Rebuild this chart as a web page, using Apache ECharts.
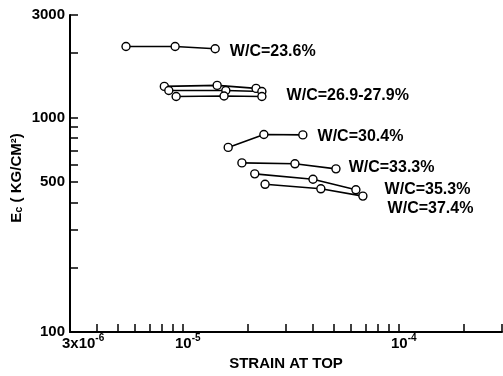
<!DOCTYPE html>
<html>
<head>
<meta charset="utf-8">
<style>
  html, body { margin: 0; padding: 0; background: #fff; }
  #chart { width: 503px; height: 376px; }
</style>
<script src="https://cdn.jsdelivr.net/npm/echarts@6/dist/echarts.min.js"></script>
</head>
<body>
<div id="chart"></div>
<script>
// Modulus of elasticity Ec (kg/cm^2) against strain at top, per water/cement ratio
const seriesNames = ['W/C=23.6%', 'W/C=26.9-27.9%', 'W/C=26.9-27.9% b', 'W/C=26.9-27.9% c',
                     'W/C=30.4%', 'W/C=33.3%', 'W/C=35.3%', 'W/C=37.4%'];

const wc236 = [[5.45e-6, 2140], [9.2e-6, 2140], [1.41e-5, 2090]];
const wc269a = [[8.2e-6, 1395], [1.44e-5, 1410], [2.18e-5, 1365]];
const wc269b = [[8.6e-6, 1335], [1.58e-5, 1335], [2.32e-5, 1320]];
const wc269c = [[9.3e-6, 1252], [1.55e-5, 1258], [2.32e-5, 1252]];
const wc304 = [[1.62e-5, 725], [2.37e-5, 833], [3.59e-5, 829]];
const wc333 = [[1.875e-5, 614], [3.3e-5, 608], [5.11e-5, 576]];
const wc353 = [[2.15e-5, 546], [4.0e-5, 515], [6.32e-5, 460]];
const wc374 = [[2.4e-5, 488], [4.35e-5, 465], [6.81e-5, 430]];

const seriesData = [wc236, wc269a, wc269b, wc269c, wc304, wc333, wc353, wc374];

// Text written next to the last point of a curve (null: no text)
const endTexts = ['W/C=23.6%', null, 'W/C=26.9-27.9%', null, 'W/C=30.4%', 'W/C=33.3%', 'W/C=35.3%', 'W/C=37.4%'];
const endOffsets = [[10, 3], null, [20, 4], null, [10, 2], [8, -1], [24, 0], [20, 12]];

// Axis ticks and labels
const xTickValues = [4e-6, 5e-6, 6e-6, 7e-6, 8e-6, 9e-6, 1e-5, 2e-5, 3e-5, 4e-5, 5e-5, 6e-5, 7e-5, 8e-5, 9e-5, 1e-4, 2e-4, 3e-4];
const xLabelValues = [3e-6, 1e-5, 1e-4];
const xLabelBase = ['3x10', '10', '10'];
const xLabelExp = ['-6', '-5', '-4'];
const yTickValues = [200, 300, 400, 500, 600, 700, 800, 900, 1000, 2000, 3000];
const yLabelValues = [100, 500, 1000, 3000];

const FONT = 'Liberation Sans';
const chart = echarts.init(document.getElementById('chart'), null, { renderer: 'canvas' });

const series = seriesData.map((pts, i) => ({
  name: seriesNames[i],
  type: 'line',
  data: pts.map((p, j) => {
    if (j === pts.length - 1 && endTexts[i]) {
      return {
        value: p,
        label: {
          show: true, position: 'right', distance: 0,
          offset: endOffsets[i],
          formatter: endTexts[i],
          color: '#000', fontFamily: FONT, fontSize: 16, fontWeight: 'bold'
        }
      };
    }
    return p;
  }),
  symbol: 'circle',
  symbolSize: 8,
  showAllSymbol: true,
  lineStyle: { color: '#000', width: 1.6 },
  itemStyle: { color: '#fff', borderColor: '#000', borderWidth: 1.4 },
  emphasis: { disabled: true },
  animation: false,
  z: 3
}));

// Pick the label entry closest (in log space) to a tick value
function xLabelIndex(v) {
  let best = -1, bestD = 0.05;
  xLabelValues.forEach((lv, k) => {
    const d = Math.abs(Math.log10(v) - Math.log10(lv));
    if (d < bestD) { bestD = d; best = k; }
  });
  return best;
}

chart.setOption({
  animation: false,
  backgroundColor: '#fff',
  grid: { left: 70, right: 1, top: 15, bottom: 43, containLabel: false },
  xAxis: {
    type: 'log', logBase: 10, min: 3e-6, max: 3e-4,
    name: 'STRAIN AT TOP', nameLocation: 'middle', nameGap: 23,
    nameTextStyle: { color: '#000', fontFamily: FONT, fontSize: 15, fontWeight: 'bold' },
    axisLine: { lineStyle: { color: '#000', width: 2 } },
    axisTick: { show: true, inside: true, length: 8, customValues: xTickValues, lineStyle: { color: '#000', width: 1.5 } },
    axisLabel: {
      customValues: xLabelValues, margin: 1, align: 'left', padding: [0, 0, 0, -8],
      showMinLabel: true, showMaxLabel: true,
      formatter: v => {
        const k = xLabelIndex(v);
        return k < 0 ? '' : '{b|' + xLabelBase[k] + '}{s|' + xLabelExp[k] + '}';
      },
      rich: {
        b: { fontFamily: FONT, fontSize: 15, fontWeight: 'bold', color: '#000', lineHeight: 18, verticalAlign: 'bottom' },
        s: { fontFamily: FONT, fontSize: 10, fontWeight: 'bold', color: '#000', lineHeight: 10, verticalAlign: 'top' }
      }
    },
    splitLine: { show: false }
  },
  yAxis: {
    type: 'log', logBase: 10, min: 100, max: 3000,
    axisLine: { lineStyle: { color: '#000', width: 2 } },
    axisTick: { show: true, inside: true, length: 8, customValues: yTickValues, lineStyle: { color: '#000', width: 1.5 } },
    axisLabel: {
      customValues: yLabelValues, margin: 5, color: '#000', fontFamily: FONT, fontSize: 15, fontWeight: 'bold',
      showMinLabel: true, showMaxLabel: true,
      formatter: v => String(Math.round(v))
    },
    splitLine: { show: false }
  },
  graphic: [{
    type: 'text',
    x: 16, y: 178,
    rotation: Math.PI / 2,
    style: {
      text: '{e|E}{c|c}{t| ( KG/CM²)}',
      align: 'center', verticalAlign: 'middle',
      rich: {
        e: { fontFamily: FONT, fontSize: 15, fontWeight: 'bold', color: '#000', lineHeight: 16, verticalAlign: 'bottom' },
        c: { fontFamily: FONT, fontSize: 11, fontWeight: 'bold', color: '#000', lineHeight: 16, verticalAlign: 'bottom' },
        t: { fontFamily: FONT, fontSize: 15, fontWeight: 'bold', color: '#000', lineHeight: 16, verticalAlign: 'bottom' }
      }
    }
  }],
  series: series
});
</script>
</body>
</html>
